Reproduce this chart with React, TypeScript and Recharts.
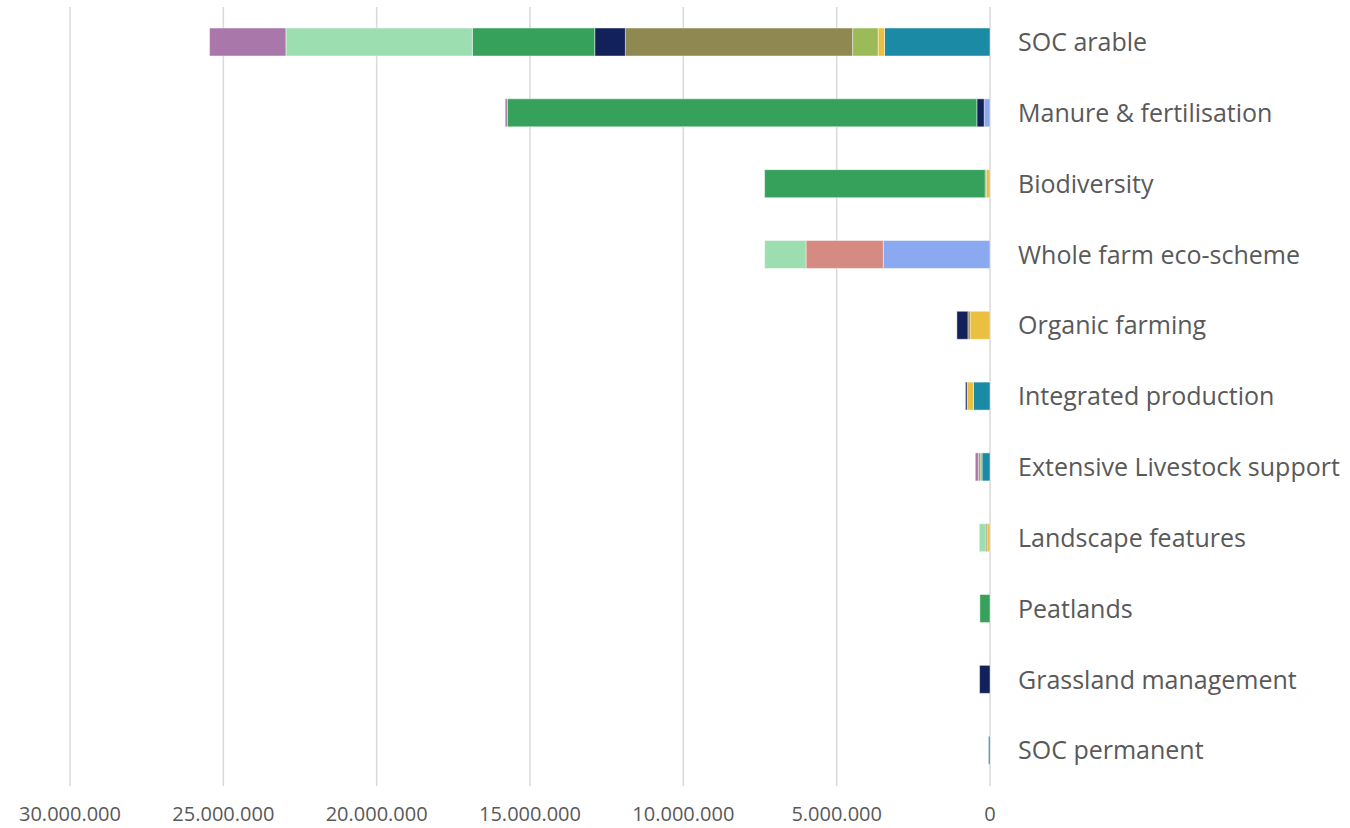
import { Bar, BarChart, CartesianGrid, XAxis, YAxis } from "recharts";

const categories = [
  "SOC arable",
  "Manure & fertilisation",
  "Biodiversity",
  "Whole farm eco-scheme",
  "Organic farming",
  "Integrated production",
  "Extensive Livestock support",
  "Landscape features",
  "Peatlands",
  "Grassland management",
  "SOC permanent",
];

// stacked from 0 outward (right to left)
const lightBlue = [0, 190000, 0, 3480000, 0, 0, 0, 0, 0, 0, 0];
const teal = [3440000, 0, 0, 0, 0, 540000, 260000, 0, 0, 0, 50000];
const yellow = [210000, 0, 120000, 0, 650000, 210000, 0, 80000, 0, 0, 0];
const oliveGreen = [830000, 0, 0, 0, 0, 0, 65000, 0, 0, 0, 0];
const olive = [7410000, 0, 40000, 0, 70000, 0, 55000, 50000, 0, 0, 0];
const navy = [1000000, 240000, 0, 0, 360000, 50000, 0, 0, 0, 340000, 0];
const salmon = [0, 0, 0, 2520000, 0, 0, 0, 0, 0, 0, 0];
const green = [3990000, 15310000, 7190000, 0, 0, 0, 0, 0, 330000, 0, 0];
const lightGreen = [6080000, 0, 0, 1350000, 0, 0, 0, 220000, 0, 0, 0];
const purple = [2490000, 70000, 0, 0, 0, 0, 100000, 0, 0, 0, 0];

const xTicks = [0, 5000000, 10000000, 15000000, 20000000, 25000000, 30000000];

const series = [
  { key: "lightBlue", values: lightBlue, color: "#8BA9F1" },
  { key: "teal", values: teal, color: "#1B8AA5" },
  { key: "yellow", values: yellow, color: "#EBC040" },
  { key: "oliveGreen", values: oliveGreen, color: "#9BBB59" },
  { key: "olive", values: olive, color: "#8F8850" },
  { key: "navy", values: navy, color: "#12215A" },
  { key: "salmon", values: salmon, color: "#D58B82" },
  { key: "green", values: green, color: "#36A15B" },
  { key: "lightGreen", values: lightGreen, color: "#9DDEB1" },
  { key: "purple", values: purple, color: "#AA77AA" },
];

const data = categories.map((name, i) => {
  const row: Record<string, string | number> = { name };
  series.forEach((s) => {
    row[s.key] = s.values[i];
  });
  return row;
});

const formatNumber = (v: number) => String(v).replace(/\B(?=(\d{3})+(?!\d))/g, ".");

const FONT = "'Open Sans', Lato, sans-serif";

function CategoryTick(props: any) {
  const { x, y, payload } = props;
  return (
    <text x={x} y={y} dy="0.35em" textAnchor="start" fill="#595959" fontSize={25} fontFamily={FONT}>
      {payload.value}
    </text>
  );
}

export default function App() {
  return (
    <div style={{ position: "absolute", left: 0, top: 0, background: "#fff" }}>
      <BarChart
        width={1350}
        height={828}
        data={data}
        layout="vertical"
        margin={{ top: 7, right: 0, bottom: 0, left: 70 }}
        barSize={28}
      >
        <CartesianGrid horizontal={false} stroke="#D9D9D9" strokeWidth={1.5} />
        <XAxis
          type="number"
          reversed
          domain={[0, 30000000]}
          ticks={xTicks}
          tickFormatter={formatNumber}
          axisLine={false}
          tickLine={false}
          height={42}
          tickMargin={15}
          interval={0}
          tick={{ fill: "#595959", fontSize: 20, fontFamily: FONT }}
        />
        <YAxis
          type="category"
          dataKey="name"
          orientation="right"
          width={360}
          axisLine={false}
          tickLine={false}
          tickSize={0}
          tickMargin={28}
          interval={0}
          tick={<CategoryTick />}
        />
        {series.map((s) => (
          <Bar
            key={s.key}
            dataKey={s.key}
            stackId="a"
            fill={s.color}
            stroke="#ffffff"
            strokeOpacity={0.6}
            strokeWidth={0.75}
            isAnimationActive={false}
          />
        ))}
      </BarChart>
    </div>
  );
}
